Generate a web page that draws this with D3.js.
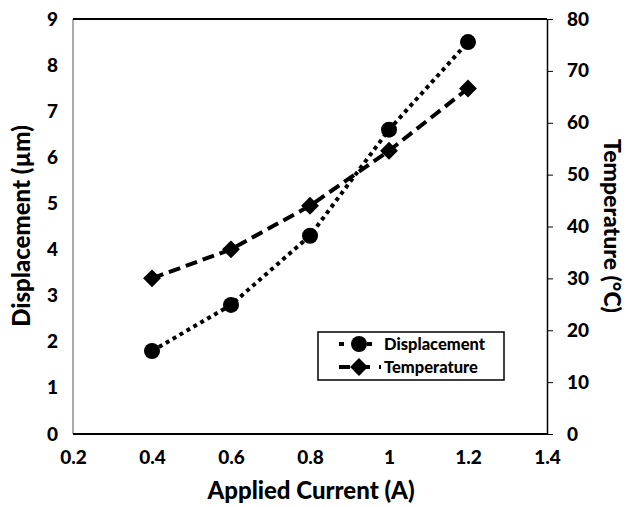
<!DOCTYPE html>
<html>
<head>
<meta charset="utf-8">
<script src="https://cdn.jsdelivr.net/npm/d3@7"></script>
<style>
  html, body { margin: 0; padding: 0; background: #fff; }
  svg { display: block; font-family: Lato, "Open Sans", sans-serif; font-weight: 700; }
</style>
</head>
<body>
<svg id="chart" width="628" height="507"></svg>
<script>
const current = [0.4, 0.6, 0.8, 1.0, 1.2];
const displacement = [1.8, 2.8, 4.3, 6.6, 8.5];
const temperature = [30, 35.6, 44, 54.6, 66.6];
const xTicks = [0.2, 0.4, 0.6, 0.8, 1.0, 1.2, 1.4];
const yLeftTicks = [0, 1, 2, 3, 4, 5, 6, 7, 8, 9];
const yRightTicks = [0, 10, 20, 30, 40, 50, 60, 70, 80];

const svg = d3.select("#chart");
const L = 73, R = 547, T = 19, B = 434;
const FONT = "Lato, sans-serif";

const x = d3.scaleLinear().domain([0.2, 1.4]).range([L, R]);
const yL = d3.scaleLinear().domain([0, 9]).range([B, T]);
const yR = d3.scaleLinear().domain([0, 80]).range([B, T]);

// frame lines
svg.append("line").attr("x1", L).attr("x2", L).attr("y1", T).attr("y2", B)
  .attr("stroke", "#555").attr("stroke-width", 1);
svg.append("line").attr("x1", L).attr("x2", R).attr("y1", T).attr("y2", T)
  .attr("stroke", "#000").attr("stroke-width", 2);

function styleText(g) {
  g.selectAll("text").attr("font-size", 19).attr("fill", "#000")
    .attr("font-family", FONT).attr("font-weight", 900);
}

// bottom axis
const xAxis = svg.append("g").attr("transform", `translate(0,${B})`)
  .call(d3.axisBottom(x).tickValues(xTicks).tickSize(0).tickPadding(17)
    .tickFormat(d => String(+d.toFixed(1))));
xAxis.select(".domain").attr("stroke-width", 2).attr("d", `M${L},0H${R}`);
styleText(xAxis);

// left axis
const yAxisL = svg.append("g").attr("transform", `translate(${L},0)`)
  .call(d3.axisLeft(yL).tickValues(yLeftTicks).tickSize(0).tickPadding(15));
yAxisL.select(".domain").remove();
styleText(yAxisL);

// right axis
const yAxisR = svg.append("g").attr("transform", `translate(${R},0)`)
  .call(d3.axisRight(yR).tickValues(yRightTicks).tickSize(6).tickSizeOuter(0).tickPadding(14));
yAxisR.select(".domain").attr("stroke-width", 1.5);
yAxisR.selectAll(".tick line").attr("stroke-width", 1);
styleText(yAxisR);

// titles
svg.append("text").attr("transform", `translate(30,226) rotate(-90)`)
  .attr("text-anchor", "middle").attr("font-size", 24).attr("font-weight", 900)
  .text("Displacement (µm)");
svg.append("text").attr("transform", `translate(604,226) rotate(90)`)
  .attr("text-anchor", "middle").attr("font-size", 23).attr("font-weight", 900)
  .text("Temperature (°C)");
svg.append("text").attr("x", 311).attr("y", 499)
  .attr("text-anchor", "middle").attr("font-size", 24).attr("font-weight", 900)
  .text("Applied Current (A)");

// lines
const dispData = current.map((c, i) => [c, displacement[i]]);
const tempData = current.map((c, i) => [c, temperature[i]]);

svg.append("path").datum(dispData)
  .attr("d", d3.line().x(d => x(d[0])).y(d => yL(d[1])))
  .attr("fill", "none").attr("stroke", "#000").attr("stroke-width", 4)
  .attr("stroke-dasharray", "4,4");
svg.append("path").datum(tempData)
  .attr("d", d3.line().x(d => x(d[0])).y(d => yR(d[1])))
  .attr("fill", "none").attr("stroke", "#000").attr("stroke-width", 4)
  .attr("stroke-dasharray", "12,6");

const circ = d3.symbol().type(d3.symbolCircle).size(Math.PI * 8 * 8);
const diam = d3.symbol().type(d3.symbolSquare).size(160);
svg.selectAll(".dm").data(dispData).enter().append("path")
  .attr("transform", d => `translate(${x(d[0])},${yL(d[1])})`)
  .attr("d", circ).attr("fill", "#000");
svg.selectAll(".tm").data(tempData).enter().append("path")
  .attr("transform", d => `translate(${x(d[0])},${yR(d[1])}) rotate(45)`)
  .attr("d", diam).attr("fill", "#000");

// legend
const lg = svg.append("g");
lg.append("rect").attr("x", 318).attr("y", 332).attr("width", 186).attr("height", 48)
  .attr("fill", "#fff").attr("stroke", "#000").attr("stroke-width", 1.5);
const legendItems = [
  {name: "Displacement", y: 344, dash: "5,9", sym: circ, rot: 0},
  {name: "Temperature", y: 367, dash: "11,9", sym: diam, rot: 45}
];
legendItems.forEach(it => {
  lg.append("line").attr("x1", 339).attr("x2", 381).attr("y1", it.y).attr("y2", it.y)
    .attr("stroke", "#000").attr("stroke-width", 4).attr("stroke-dasharray", it.dash);
  lg.append("path").attr("transform", `translate(359,${it.y}) rotate(${it.rot})`)
    .attr("d", it.sym).attr("fill", "#000");
  lg.append("text").attr("x", 384).attr("y", it.y + 6).attr("font-size", 16.5)
    .attr("font-weight", 900).text(it.name);
});
</script>
</body>
</html>
